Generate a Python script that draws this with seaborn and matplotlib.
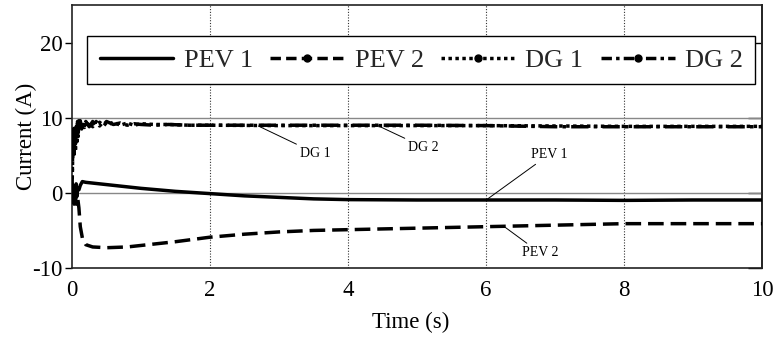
import numpy as np
import pandas as pd
import matplotlib
matplotlib.use("Agg")
import matplotlib.pyplot as plt
from matplotlib.lines import Line2D
import seaborn as sns

# ---- data ----
pev1_t = [0, 0.01, 0.02, 0.03, 0.04, 0.05, 0.06, 0.07, 0.08, 0.1, 0.12, 0.15, 0.2,
          0.4, 0.7, 1.0, 1.5, 2.0, 2.5, 3.0, 3.5, 4.0, 5.0, 6.0, 7.0, 8.0, 9.0, 10.0]
pev1 = [0, -1.2, 1.0, -1.5, 0.8, -0.8, 1.2, -0.5, 0.6, 0.4, 1.0, 1.5, 1.4,
        1.2, 0.9, 0.6, 0.2, -0.1, -0.4, -0.6, -0.8, -0.9, -0.95, -0.95, -0.95, -1.0, -0.95, -0.95]

pev2_t = [0, 0.02, 0.04, 0.06, 0.08, 0.1, 0.12, 0.15, 0.2, 0.3, 0.5, 0.8, 1.0,
          1.5, 2.0, 2.5, 3.0, 3.5, 4.0, 5.0, 6.0, 7.0, 8.0, 9.0, 10.0]
pev2 = [0, -1.0, 0.5, -1.5, -0.5, -2.0, -4.5, -6.0, -6.9, -7.2, -7.3, -7.2, -7.0,
        -6.5, -5.9, -5.5, -5.2, -5.0, -4.9, -4.7, -4.5, -4.3, -4.1, -4.1, -4.1]

dg1_t = [0, 0.01, 0.02, 0.03, 0.04, 0.05, 0.06, 0.07, 0.08, 0.09, 0.1, 0.12, 0.14,
         0.16, 0.18, 0.2, 0.25, 0.3, 0.35, 0.4, 0.45, 0.5, 0.6, 0.7, 0.8, 0.9, 1.0,
         1.2, 1.4, 1.7, 2.0, 3.0, 4.0, 5.0, 6.0, 7.0, 8.0, 9.0, 10.0]
dg1 = [0, 5.0, 7.8, 4.8, 8.4, 5.5, 8.8, 6.5, 9.5, 7.5, 9.6, 8.4, 9.4,
       8.6, 9.5, 8.7, 9.4, 8.8, 9.5, 8.9, 9.4, 9.0, 9.4, 9.0, 9.3, 9.0, 9.2,
       9.1, 9.1, 9.0, 9.0, 8.95, 8.95, 8.95, 8.95, 8.9, 8.85, 8.85, 8.85]

dg2_t = dg1_t
dg2 = [0, 6.0, 8.5, 5.5, 9.0, 6.5, 8.2, 7.0, 9.3, 8.0, 9.0, 9.6, 8.5,
       9.4, 8.7, 9.5, 8.8, 9.5, 8.9, 9.4, 9.0, 9.5, 9.1, 9.3, 9.0, 9.2, 9.1,
       9.0, 9.1, 9.0, 9.0, 9.0, 9.0, 9.0, 8.95, 8.8, 8.8, 8.8, 8.8]

x_ticks = [0, 2, 4, 6, 8, 10]
y_ticks = [-10, 0, 10, 20]
labels = ["PEV 1", "PEV 2", "DG 1", "DG 2"]

sns.set_theme(style="white")
plt.rcParams["font.family"] = ["Liberation Serif", "DejaVu Serif"]
plt.rcParams["axes.unicode_minus"] = False

fig = plt.figure(figsize=(7.79, 3.41), dpi=100)
ax = fig.add_axes([72 / 779, 1 - 268 / 341, 690 / 779, 263 / 341])

# reference lines / grid
for gx in [2, 4, 6, 8]:
    ax.axvline(gx, color="#333333", lw=0.8, ls=(0, (1, 1.5)), zorder=1)
for gy in [0, 10]:
    ax.axhline(gy, color="#888888", lw=1.0, zorder=1)

lw = 2.5
sns.lineplot(x=pev1_t, y=pev1, ax=ax, color="black", lw=lw, zorder=3)
sns.lineplot(x=pev2_t, y=pev2, ax=ax, color="black", lw=lw, linestyle=(0, (4.5, 2)), zorder=3)
sns.lineplot(x=dg1_t, y=dg1, ax=ax, color="black", lw=lw, linestyle=(0, (1, 1)), zorder=3)
sns.lineplot(x=dg2_t, y=dg2, ax=ax, color="black", lw=lw, linestyle=(0, (5, 1.5, 1, 1.5)), zorder=3)

ax.set_xlim(0, 10)
ax.set_ylim(-10, 25)
ax.set_xticks(x_ticks)
ax.set_yticks(y_ticks)
ax.tick_params(axis="x", length=0, pad=9, labelsize=16.5, colors="black")
ax.tick_params(axis="y", length=5, width=1, pad=2, labelsize=16.5, colors="black", direction="out", left=True)
ax.set_xlabel("Time (s)", fontsize=16.5, color="black")
ax.set_ylabel("Current (A)", fontsize=16.5, color="black")
ax.xaxis.set_label_coords(0.491, -0.167)
ax.yaxis.set_label_coords(-0.05, 0.5)
for s in ax.spines.values():
    s.set_color("#222222")
    s.set_linewidth(1.2)

# right-side inner ticks
ax2 = ax.secondary_yaxis("right")
ax2.set_yticks(y_ticks)
ax2.tick_params(axis="y", direction="in", length=10, width=1, labelright=False, colors="black")

# legend
handles = [
    Line2D([], [], color="black", lw=2.5),
    Line2D([], [], color="black", lw=2.5, ls=(0, (3, 1.5)), marker="o", ms=5),
    Line2D([], [], color="black", lw=2.5, ls=(0, (1, 1)), marker="o", ms=5),
    Line2D([], [], color="black", lw=2.5, ls=(0, (3, 1.2, 1, 1.2)), marker="o", ms=5),
]
leg = ax.legend(handles, labels, ncol=4, loc="upper left", bbox_to_anchor=(0.022, 0.882),
                fontsize=19, frameon=True, fancybox=False, framealpha=1, edgecolor="black",
                handlelength=2.8, handletextpad=0.4, columnspacing=0.65, numpoints=1,
                borderpad=0.47, borderaxespad=0)
leg.get_frame().set_linewidth(1.0)

# annotations
ann = dict(fontsize=10, color="black")
arr = dict(arrowstyle="-", color="black", lw=0.7, shrinkA=0, shrinkB=0)
ax.annotate("DG 1", xy=(2.7, 8.9), xytext=(3.3, 5.3), va="center", ha="left", arrowprops=arr, **ann)
ax.annotate("DG 2", xy=(4.42, 9.0), xytext=(4.87, 6.1), va="center", ha="left", arrowprops=arr, **ann)
ax.annotate("PEV 1", xy=(6.01, -0.9), xytext=(6.65, 5.1), va="center", ha="left", arrowprops=arr, **ann)
ax.annotate("PEV 2", xy=(6.28, -4.6), xytext=(6.52, -8.0), va="center", ha="left", arrowprops=arr, **ann)

fig.savefig("out.png", dpi=100)
